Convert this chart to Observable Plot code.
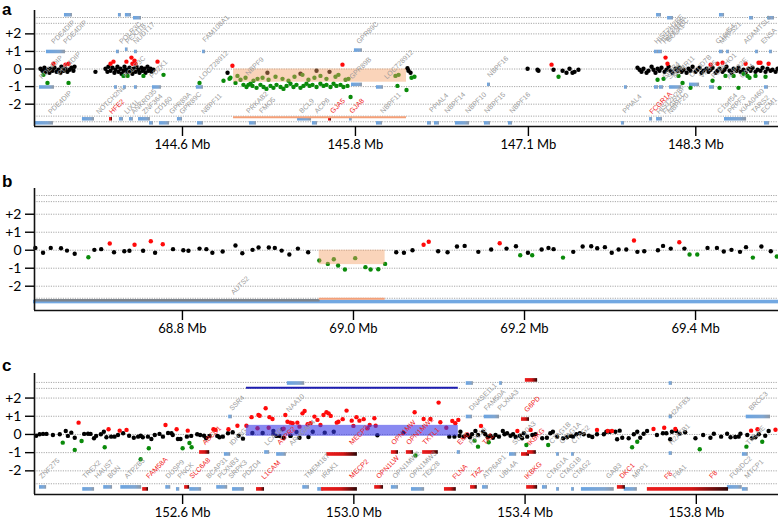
<!DOCTYPE html>
<html>
<head>
<meta charset="utf-8">
<script src="https://cdn.jsdelivr.net/npm/d3@7"></script>
<script src="https://cdn.jsdelivr.net/npm/@observablehq/plot@0.6"></script>
<style>
  body { margin: 0; background: #fff; }
  #wrap { position: relative; width: 778px; height: 521px; overflow: hidden; font-family: Lato, "Open Sans", sans-serif; }
  .panel { position: absolute; left: 0; }
  .letter { position: absolute; left: 2px; font: bold 17px Arial, "Liberation Sans", sans-serif; line-height: normal; }
</style>
</head>
<body>
<svg width="0" height="0" style="position:absolute">
  <defs>
    <linearGradient id="blueGrad" x1="0" x2="1" y1="0" y2="0">
      <stop offset="0" stop-color="#6aa4e2"/><stop offset="0.7" stop-color="#7fa6d2"/><stop offset="1" stop-color="#8f98a4"/>
    </linearGradient>
    <linearGradient id="redGrad" x1="0" x2="1" y1="0" y2="0">
      <stop offset="0" stop-color="#ee1c1c"/><stop offset="0.55" stop-color="#d41515"/><stop offset="1" stop-color="#2a0707"/>
    </linearGradient>
  </defs>
</svg>
<div id="wrap">
  <div class="panel" id="pa" style="top:0px"></div>
  <div class="panel" id="pb" style="top:170px"></div>
  <div class="panel" id="pc" style="top:345px"></div>
  <div class="letter" style="top:0px">a</div>
  <div class="letter" style="top:172px">b</div>
  <div class="letter" style="top:356px">c</div>
</div>
<script>
// ---------- shared tick labels ----------
const yTicks = [2, 1, 0, -1, -2];
const yTickLabels = ["+2", "+1", "0", "-1", "-2"];

// ---------- panel a (chr1, Mb) ----------
const aXTicks = [144.6, 145.84, 147.08, 148.28];
const aXTickLabels = ["144.6 Mb", "145.8 Mb", "147.1 Mb", "148.3 Mb"];
const aGridRows = [2.93, 2.6, 2, 1, 0, -1, -2, -2.68, -3.0];
const aNeutral = [
  [143.582,0.02],[143.596,-0.10],[143.610,0.07],[143.618,-0.16],[143.632,-0.04],[143.646,-0.21],[143.654,0.02],[143.668,-0.10],[143.682,0.07],[143.697,-0.16],[143.711,-0.04],[143.725,-0.21],[143.732,0.13],[143.747,-0.10],[143.761,0.02],[143.775,-0.16],[143.790,-0.04],[143.804,0.07],[143.818,-0.10],[143.826,0.13],[143.976,-0.16],
  [144.048,0.02],[144.062,-0.16],[144.069,0.13],[144.084,-0.10],[144.098,0.07],[144.112,-0.21],[144.120,-0.04],[144.134,0.13],[144.141,-0.16],[144.155,0.02],[144.163,-0.27],[144.177,-0.10],[144.184,0.13],[144.198,-0.04],[144.206,-0.21],[144.220,0.07],[144.227,-0.10],[144.241,-0.27],[144.249,0.02],[144.263,-0.16],[144.270,0.13],[144.284,-0.04],[144.292,-0.21],[144.306,0.07],[144.313,-0.10],[144.328,0.02],[144.335,-0.21],[144.349,0.13],[144.356,-0.10],[144.371,0.02],[144.378,-0.16],[144.392,-0.04],
  [144.923,-0.21],[145.209,-0.21],[145.446,-0.27],[145.561,-0.10],[145.654,-0.16],[146.213,0.05],[146.220,-0.10],[146.235,-0.21],
  [147.074,0.02],[147.145,-0.04],[147.152,-0.10],[147.260,-0.04],[147.325,-0.10],[147.353,-0.21],[147.375,0.02],[147.396,-0.21],[147.411,-0.16],[147.439,-0.04],
  [147.862,0.07],[147.877,-0.04],[147.891,-0.16],[147.905,0.02],[147.927,-0.21],[147.941,-0.10],[147.963,0.13],[147.977,-0.04],[147.991,-0.21],[148.006,0.02],
  [148.020,-0.10],[148.034,0.07],[148.056,-0.16],[148.070,-0.04],[148.085,0.13],[148.099,-0.10],[148.113,-0.21],[148.135,0.02],[148.149,-0.10],[148.163,0.07],
  [148.178,-0.16],[148.192,-0.04],[148.214,-0.21],[148.228,0.02],[148.242,-0.10],[148.257,0.13],[148.278,-0.16],[148.292,-0.04],[148.307,0.07],[148.321,-0.21],
  [148.335,-0.10],[148.357,0.02],[148.371,-0.16],[148.386,-0.04],[148.400,0.07],[148.422,-0.21],[148.436,-0.10],[148.450,0.02],[148.472,-0.16],[148.486,-0.04],
  [148.500,0.13],[148.522,-0.10],[148.536,-0.21],[148.551,0.02],[148.572,-0.10],[148.586,0.07],[148.601,-0.16],[148.622,-0.04],[148.637,-0.21],[148.658,0.02],
  [148.673,-0.10],[148.687,0.07],[148.708,-0.16],[148.723,-0.04],[148.744,-0.10],[148.759,0.07],[148.780,-0.16],[148.794,0.02],[148.816,-0.10],[148.830,-0.04],
  [148.852,-0.16],[148.866,0.02]
];
const aGain = [
  [143.675,0.30],[143.761,0.25],[143.783,0.30],[144.105,0.42],[144.084,0.30],[144.198,0.42],[144.234,0.65],[144.256,0.48],[144.241,0.30],[144.421,0.42],[144.263,0.30],
  [144.958,0.19],[145.747,0.25],[147.246,0.25],[148.063,0.65],[148.077,0.30],[148.386,0.25],[148.436,0.30],[148.472,0.36],[148.637,0.30],[148.730,0.36],[148.744,0.36],[148.802,0.30]
];
const aLoss = [
  [143.603,-0.33],[143.632,-0.79],[143.783,-0.79],[144.177,-0.39],[144.206,-0.39],[144.320,-0.39],[144.464,-0.33],[144.722,-0.79],[144.894,-0.67],[144.937,-0.56],[144.944,-0.50],
  [144.980,-0.79],[145.016,-0.61],[145.037,-0.90],[145.059,-1.02],[145.073,-0.90],[145.088,-0.84],[145.102,-0.96],[145.131,-1.07],[145.159,-0.90],[145.181,-1.02],[145.202,-1.13],[145.231,-0.96],[145.252,-1.07],[145.274,-0.90],[145.303,-1.02],[145.324,-1.13],[145.346,-0.96],[145.374,-0.84],[145.396,-1.02],[145.417,-0.90],[145.446,-1.07],[145.467,-0.96],[145.489,-0.84],[145.511,-0.96],[145.532,-0.90],[145.561,-1.02],[145.589,-0.84],[145.611,-0.96],[145.632,-0.90],[145.661,-1.02],[145.683,-0.84],[145.704,-0.96],[145.733,-0.90],[145.754,-1.02],[145.783,-0.96],[145.805,-1.59],
  [144.994,-0.39],[145.052,-0.50],[145.109,-0.67],[145.138,-0.56],[145.174,-0.50],[145.217,-0.61],[145.267,-0.44],[145.317,-0.56],[145.360,-0.67],[145.403,-0.44],[145.460,-0.33],[145.503,-0.61],[145.546,-0.50],[145.589,-0.39],[145.632,-0.56],[145.697,-0.44],[145.718,-0.33],[145.769,-0.61],[145.790,-0.56],[146.127,-0.39],[146.149,-0.33],
  [146.141,-0.96],[146.206,-1.19],[146.242,-0.50],[146.263,-0.44],
  [147.296,-0.44],[148.006,-0.61],[148.049,-0.56],[148.156,-0.39],[148.185,-0.79],[148.242,-1.07],[148.400,-0.67],[148.450,-1.07],[148.493,-0.39],[148.551,-0.39],[148.586,-1.07],[148.622,-0.27],[148.651,-0.39],[148.665,-0.50],[148.708,-0.39],[148.780,-0.44]
];
const aRegion = {start: 144.966, end: 146.206, top: 0, bottom: -0.75, lineRow: -2.74};
const aGenes = [
  [143.761,143.804,3.06],[144.148,144.155,3.06],[144.198,144.227,3.06],[144.256,144.299,2.89],[148.006,148.027,3.06],[148.085,148.113,2.89],[148.457,148.479,3.06],[148.673,148.687,2.89],[148.802,148.837,2.89],
  [143.632,143.754,0.97],[144.134,144.141,0.97],[144.198,144.203,1.1],[144.263,144.270,0.97],[144.751,144.758,0.97],[145.840,145.883,1.05],[147.991,148.006,0.97],[148.020,148.034,0.97],[148.457,148.472,0.97],[148.508,148.515,0.97],[148.716,148.723,0.97],[148.816,148.823,0.97],
  [143.582,143.675,-1.05],[144.120,144.127,-1.05],[144.184,144.191,-1.05],[144.263,144.270,-1.05],[144.392,144.442,-1.05],[144.707,144.743,-1.05],[145.819,145.883,-0.9],[145.998,146.034,-1.05],[146.794,146.801,-0.9],[147.776,147.783,-1.05],[147.991,148.006,-1.05],[148.027,148.042,-1.05],[148.099,148.171,-1.05],[148.242,148.300,-0.9],[148.386,148.407,-1.05],[148.780,148.794,-1.05],
  [143.890,143.962,-2.86],[144.155,144.170,-2.86],[144.227,144.241,-2.86],[144.292,144.363,-2.86],[144.571,144.593,-2.86],[145.432,145.518,-2.86],[145.805,145.810,-2.86],[147.956,147.963,-2.86],[148.006,148.034,-2.86],[148.493,148.637,-2.86],
  [143.553,143.668,-3.09],[144.371,144.385,-3.09],[144.442,144.500,-3.09],[144.715,144.743,-3.09],[145.088,145.123,-3.09],[145.539,145.561,-3.09],[145.998,146.027,-3.09],[146.364,146.378,-3.09],[146.414,146.435,-3.09],[146.564,146.651,-3.09],[146.772,146.801,-3.09],[146.944,146.959,-3.09],[147.755,147.762,-3.09],[148.780,148.802,-3.09]
];
const aRedGenes = [[145.654,145.661,-2.86],[144.084,144.091,-2.86]];
const aLabels = [
  ["PDE4DIP",143.668,1.5],["PDE4DIP",143.754,1.5],["POLR3C",144.155,1.5],["PEX11B",144.198,1.5],["NUDT17",144.256,1.5],["FAM108A1",144.751,1.6],["GPR89C",145.855,1.5],
  ["HIST2H2BE",147.991,1.5],["HIST2H4A",148.020,1.5],["HIST2H3C",148.049,1.5],["BOLA1",148.077,1.6],["C1orf54",148.429,1.5],["MRPS21",148.457,1.5],["ADAMTSL4",148.630,1.5],["ENSA",148.755,1.5],
  ["PDE4DIP",143.582,-0.5],["PDE4DIP",143.711,-0.3],["POLR3C",144.184,-0.45],["PDZK1",144.371,-0.45],["LOC728912",144.729,-0.55],["NBPF9",145.060,-0.3],["GPR89B",145.805,-0.5],["LOC728912",146.055,-0.5],["NBPF16",146.794,-0.4],
  ["SF3B4",148.049,-0.5],["SV2A",148.085,-0.5],["MTMR11",148.121,-0.45],["OTUD7B",148.242,-0.4],["VPS45",148.314,-0.45],["PLEKHO1",148.400,-0.45],["ANP32E",148.508,-0.5],["CA14",148.601,-0.45],
  ["PDE4DIP",143.646,-2.5],["NOTCH2NL",143.990,-2.5],["LIX1L",144.191,-2.5],["ANKRD35",144.241,-2.5],["ZNF364",144.320,-2.5],["CD160",144.406,-2.5],["GPR89A",144.514,-2.5],["GPR89C",144.586,-2.5],["NBPF11",144.743,-2.5],
  ["PRKAB2",145.066,-2.45],["FMO5",145.159,-2.45],["BCL9",145.446,-2.45],["ACP6",145.554,-2.45],["NBPF11",146.027,-2.45],["PPIAL4",146.378,-2.4],["NBPF14",146.486,-2.45],["NBPF10",146.636,-2.45],["NBPF15",146.772,-2.45],["NBPF16",146.952,-2.45],
  ["PPIAL4",147.762,-2.45],["HIST2H2BF",148.006,-2.5],["FCGR1C",148.049,-2.5],["NBPF20",148.085,-2.5],["C1orf54",148.443,-2.45],["PRPF3",148.515,-2.45],["KIAA0460",148.601,-2.45],["TARS2",148.687,-2.45],["ECM1",148.755,-2.45]
];
const aRedLabels = [["HFE2",144.084,-2.5],["GJA5",145.668,-2.45],["GJA8",145.805,-2.45],["FCGR1A",147.956,-2.5]];

// ---------- panel b (chr7, Mb) ----------
const bXTicks = [68.8, 69.0, 69.2, 69.4];
const bXTickLabels = ["68.8 Mb", "69.0 Mb", "69.2 Mb", "69.4 Mb"];
const bGridRows = [3.04, 2.7, 2, 1, 0, -1, -2, -2.67];
const bNeutral = [
  [68.628,0.13],[68.637,-0.14],[68.646,0.13],[68.658,0.11],[68.665,-0.02],[68.674,-0.20],[68.697,0.02],[68.705,0.06],[68.720,-0.11],[68.732,-0.06],[68.738,-0.03],[68.754,-0.03],[68.768,-0.14],
  [68.789,0.06],[68.801,0.00],[68.807,-0.03],[68.820,0.09],[68.828,0.06],[68.835,-0.14],[68.847,-0.07],[68.862,0.26],[68.870,-0.17],[68.882,0.02],[68.889,0.15],[68.901,0.15],[68.908,0.13],[68.916,-0.02],[68.925,-0.24],[68.935,0.09],[68.947,-0.11],
  [69.050,-0.11],[69.059,-0.14],[69.069,0.00],[69.099,-0.06],[69.110,-0.11],[69.121,0.21],[69.130,0.24],[69.146,-0.09],[69.161,0.04],[69.179,0.09],[69.190,0.22],[69.204,-0.14],[69.220,0.04],[69.228,0.13],[69.234,0.06],
  [69.257,-0.09],[69.268,0.21],[69.278,0.22],[69.285,0.11],[69.294,0.17],[69.302,-0.14],[69.310,0.04],[69.319,0.04],[69.332,-0.09],[69.340,-0.06],[69.356,0.00],[69.362,0.24],[69.371,0.09],[69.387,0.09],
  [69.414,0.13],[69.425,0.13],[69.433,-0.07],[69.442,0.02],[69.452,-0.09],[69.459,0.17],[69.477,0.21],[69.488,-0.06]
];
const bGain = [[68.715,0.37],[68.744,0.30],[68.763,0.50],[68.777,0.33],[69.082,0.30],[69.088,0.47],[69.171,0.39],[69.328,0.54],[69.381,0.44]];
const bLoss = [
  [68.690,-0.39],[68.960,-0.57],[68.970,-0.76],[68.977,-0.50],[68.982,-0.85],[68.990,-1.07],[69.002,-0.44],[69.014,-0.94],[69.020,-1.07],[69.029,-1.06],[69.037,-0.76],
  [69.195,-0.28],[69.209,-0.28],[69.245,-0.41],[69.393,-0.24],[69.402,-0.24],[69.467,-0.41],[69.495,-0.35]
];
const bRegion = {start: 68.960, end: 69.037, top: 0, bottom: -0.8, lineRow: -2.7};
const bGrayGenes = [[68.627,68.961,-2.81]];
const bGenes = [[68.627,69.497,-2.88]];
const bLabels = [["AUTS2",68.858,-2.4]];

// ---------- panel c (chrX, Mb) ----------
const cXTicks = [152.6, 153.0, 153.4, 153.8];
const cXTickLabels = ["152.6 Mb", "153.0 Mb", "153.4 Mb", "153.8 Mb"];
const cGridRows = [2.86, 2.53, 2, 1, 0, -1, -2, -2.71];
const cNeutral = [
  [152.258,-0.07],[152.266,0.01],[152.274,0.03],[152.282,0.03],[152.297,-0.03],[152.313,0.01],[152.327,0.19],[152.332,-0.08],[152.340,0.10],[152.348,-0.18],[152.370,0.03],[152.379,0.04],[152.385,0.03],[152.393,-0.21],[152.398,-0.08],[152.409,0.01],[152.416,0.15],[152.422,-0.15],[152.433,-0.12],[152.441,-0.12],
  [152.449,-0.03],[152.461,0.07],[152.475,-0.07],[152.486,-0.18],[152.496,-0.12],[152.502,-0.07],[152.507,-0.15],[152.519,-0.12],[152.527,-0.25],[152.535,-0.03],[152.546,0.03],[152.554,-0.12],[152.566,0.08],[152.574,0.07],[152.577,-0.03],[152.589,-0.25],[152.595,-0.25],[152.610,-0.12],[152.620,-0.08],[152.634,0.01],
  [152.641,-0.03],[152.650,-0.07],[152.655,-0.21],[152.663,-0.08],[152.681,-0.08],[152.686,-0.15],[152.694,-0.12],[152.706,0.07],[152.717,0.12],[152.731,-0.07],[152.741,-0.23],
  [152.763,0.08],[152.787,0.08],[152.812,0.19],[152.833,0.29],[152.852,-0.07],[152.866,0.14],[152.904,0.15],[152.932,0.10],[152.953,0.15],[153.055,-0.04],[153.116,0.10],
  [152.812,0.03],[152.819,-0.08],[152.826,-0.08],[152.836,-0.19],[152.852,-0.08],[152.873,-0.18],[152.894,-0.14],[153.223,-0.12],[153.235,-0.12],[153.247,-0.08],
  [153.249,0.15],[153.257,-0.12],[153.265,-0.03],[153.271,-0.15],[153.276,0.01],[153.284,0.19],[153.290,-0.03],[153.302,0.15],[153.307,0.01],[153.313,-0.15],[153.319,-0.07],[153.325,-0.18],[153.331,-0.03],[153.339,-0.12],[153.348,0.19],[153.352,0.01],[153.358,0.07],[153.366,-0.07],[153.372,0.01],[153.378,-0.14],
  [153.388,-0.07],[153.393,-0.21],[153.397,0.07],[153.405,-0.12],[153.417,-0.03],[153.424,0.01],[153.440,-0.21],[153.451,-0.18],[153.459,0.07],[153.465,0.15],[153.475,-0.12],[153.489,-0.21],[153.498,-0.15],[153.506,-0.08],[153.512,-0.12],[153.520,0.01],[153.528,0.07],[153.537,0.01],[153.549,-0.07],[153.557,-0.14],
  [153.568,0.01],[153.584,0.01],[153.590,0.15],[153.598,0.15],[153.611,0.15],[153.615,-0.26],[153.621,0.21],[153.627,-0.18],[153.642,-0.21],[153.654,0.01],[153.662,0.15],[153.669,-0.18],[153.677,0.04],[153.685,0.19],[153.708,-0.03],[153.722,0.07],[153.730,0.07],[153.739,-0.26],[153.743,0.15],[153.753,0.19],
  [153.761,0.04],[153.774,0.12],[153.798,-0.21],[153.816,-0.03],[153.833,-0.18],[153.841,0.04],[153.858,-0.12],[153.872,0.04],[153.880,-0.15],[153.891,-0.14],[153.899,-0.12],[153.903,0.04],[153.919,-0.03],[153.930,-0.21],[153.938,-0.15],[153.946,0.01],[153.961,-0.07],[153.969,0.19]
];
const cGain = [
  [152.357,0.65],[152.427,0.29],[152.453,0.21],[152.469,0.25],[152.560,0.52],[152.586,0.29],[152.612,0.21],[152.672,0.29],[152.677,0.25],[152.707,0.29],[152.728,0.48],[152.749,0.48],[152.761,0.95],[152.775,0.34],[152.777,1.07],
  [152.780,1.03],[152.794,1.44],[152.803,0.95],[152.810,0.85],[152.801,0.37],[152.836,0.32],[152.840,1.07],[152.845,0.70],[152.852,0.65],[152.857,0.62],[152.868,0.65],[152.873,0.43],[152.880,1.16],[152.885,1.29],[152.892,0.56],[152.899,0.62],[152.908,0.98],[152.915,0.80],[152.922,0.52],[152.929,1.07],
  [152.936,1.22],[152.941,1.16],[152.946,1.02],[152.960,0.65],[152.964,0.70],[152.974,0.84],[152.983,1.31],[152.995,0.76],[152.999,0.47],[153.006,0.95],[153.013,0.76],[153.023,0.84],[153.032,0.34],[153.037,0.52],[153.048,0.89],[153.051,0.48],
  [153.142,1.22],[153.163,0.85],[153.179,0.85],[153.198,1.75],[153.202,0.67],[153.216,0.37],[153.230,0.74],[153.237,0.62],[153.244,0.80],
  [153.297,0.47],[153.382,0.19],[153.413,0.25],[153.568,0.25],[153.593,0.19],[153.603,0.19],[153.700,0.30],[153.725,0.37],[153.751,0.30],[153.928,0.21],[153.943,0.29],[153.985,0.26]
];
const cLoss = [
  [152.320,-0.45],[152.348,-0.85],[152.364,-0.36],[152.418,-0.70],[152.521,-0.76],[152.600,-0.76],[152.616,-0.47],[152.621,-0.70],[152.502,-1.36],
  [153.282,-0.34],[153.290,-0.67],[153.315,-0.43],[153.403,-0.58],[153.454,-0.58],[153.650,-0.70],[153.662,-0.40],[153.808,-0.81],[153.917,-0.67],[153.954,-0.40],[153.144,-1.16]
];
const cRegion = {start: 152.749, end: 153.244, top: 0.5, bottom: -0.1, lineRow: 2.56};
const cGenes = [
  [152.847,152.883,2.8],[153.265,153.277,2.8],[153.343,153.345,2.8],[153.739,153.742,2.8],
  [152.710,152.714,0.96],[153.265,153.275,0.96],[153.307,153.338,0.96],[153.739,153.742,0.96],[153.919,153.971,0.96],
  [152.700,152.710,-1.1],[152.794,152.801,-0.99],[152.822,152.840,-1.1],[153.244,153.247,-0.99],[153.366,153.378,-1.1],[153.476,153.478,-1.1],[153.511,153.513,-1.1],[153.739,153.742,-1.05],[153.910,153.919,-1.1],
  [152.268,152.280,-2.91],[152.369,152.392,-3.02],[152.418,152.434,-2.91],[152.458,152.502,-2.91],[152.563,152.570,-2.91],[152.588,152.591,-3.02],[152.619,152.642,-3.02],[152.682,152.703,-2.91],[152.719,152.742,-3.02],
  [152.883,152.894,-2.91],[152.918,152.927,-3.02],[153.090,153.102,-2.91],[153.137,153.163,-3.02],[153.303,153.312,-2.91],[153.443,153.450,-2.91],[153.476,153.478,-3.02],[153.511,153.513,-3.02],[153.534,153.606,-3.02],[153.634,153.660,-3.02],[153.875,153.905,-2.91],[153.910,153.919,-3.02]
];
const cRedGenes = [
  [153.403,153.427,2.97],[153.394,153.408,0.82],
  [152.642,152.661,-0.99],[152.939,153.006,-1.1],[153.090,153.102,-0.99],[153.125,153.137,-0.99],[153.163,153.195,-0.99],[153.394,153.408,-1.1],[153.408,153.424,-0.99],
  [152.509,152.518,-3.02],[152.607,152.614,-2.91],[152.775,152.789,-3.02],[152.927,153.006,-3.02],[153.051,153.067,-2.91],[153.214,153.237,-3.02],[153.275,153.286,-2.91],[153.406,153.427,-2.91],[153.618,153.632,-2.91],[153.688,153.873,-3.02]
];
const cLabels = [
  ["SSR4",152.712,1.37],["NAA10",152.845,1.3],["DNASE1L1",153.272,1.37],["FAM50A",153.307,1.37],["PLXNA3",153.338,1.37],["H2AFB3",153.739,1.0],["BRCC3",153.925,1.37],
  ["IDH3G",152.712,-0.55],["LCA10",152.794,-0.55],["ARHGAP4",152.852,-0.55],["RPL10",153.272,-0.5],["SLC10A3",153.373,-0.5],["CTAG1B",153.459,-0.45],["CTAG1A",153.483,-0.45],["CTAG2",153.511,-0.45],["H2AFB1",153.739,-0.5],["TMLHE",153.919,-0.5],
  ["ZNF275",152.268,-2.36],["TREX2",152.369,-2.36],["HAUS7",152.397,-2.36],["BGN",152.427,-2.36],["ATP2B3",152.467,-2.36],["DUSP9",152.563,-2.36],["PNCK",152.591,-2.36],["BCAP31",152.658,-2.36],["PLXNB3",152.684,-2.36],["SRPK3",152.710,-2.36],["PDZD4",152.742,-2.36],
  ["TMEM187",152.887,-2.36],["IRAK1",152.927,-2.36],["OPN1MW2",153.093,-2.36],["OPN1MW3",153.132,-2.36],["TEX28",153.163,-2.36],["ATP6AP1",153.303,-2.36],["UBL4A",153.343,-2.36],
  ["CTAG1A",153.452,-2.36],["CTAG1B",153.483,-2.36],["CTAG2",153.513,-2.36],["GAB3",153.592,-2.36],["MPP1",153.653,-2.36],["F8A1",153.747,-2.36],["FUNDC2",153.880,-2.36],["MTCP1",153.915,-2.36]
];
const cRedLabels = [
  ["G6PD",153.401,1.3],
  ["ABCD1",152.649,-0.5],["AVPR2",152.824,-0.5],["MECP2",152.992,-0.5],["OPN1MW",153.090,-0.5],["OPN1MW2",153.125,-0.5],["TKTL1",153.163,-0.5],["EMD",153.244,-0.5],["TAZ",153.303,-0.5],["IKBKG",153.408,-0.55],
  ["FAM58A",152.518,-2.36],["SLC6A8",152.619,-2.36],["L1CAM",152.787,-2.4],["MECP2",152.992,-2.36],["OPN1LW",153.055,-2.36],["FLNA",153.233,-2.4],["TAZ",153.277,-2.36],["IKBKG",153.401,-2.4],["DKC1",153.623,-2.36],["F8",153.728,-2.4],["F8",153.833,-2.36]
];

// ---------- drawing ----------
const FONT = "Lato, 'Open Sans', sans-serif";

function panel(cfg) {
  const fmtY = d => yTickLabels[yTicks.indexOf(d)];
  const fmtX = d => cfg.xTickLabels[cfg.xTicks.indexOf(d)];
  const reg = cfg.region;
  const geneRect = (data, fill) => Plot.rect(data, {
    x1: d => d[0], x2: d => d[1],
    y1: d => d[2] - 0.1, y2: d => d[2] + 0.1,
    insetLeft: -1, insetRight: -1,
    fill
  });
  const labelText = (data, fill) => Plot.text(data, {
    x: d => d[1], y: d => d[2], text: d => d[0],
    rotate: -45, textAnchor: "start", fontSize: 7, fill, fontFamily: "Arial, sans-serif"
  });
  return Plot.plot({
    width: 778, height: cfg.height,
    marginLeft: 34, marginRight: 0, marginTop: cfg.marginTop, marginBottom: cfg.marginBottom,
    x: {domain: cfg.xDomain},
    y: {domain: cfg.yDomain},
    style: {fontFamily: FONT, fontSize: "13px", color: "#000", background: "transparent", overflow: "visible"},
    marks: [
      Plot.ruleY(cfg.grid, {stroke: "#a8a8a8", strokeDasharray: "1.2,1.2", strokeWidth: 1}),
      geneRect(cfg.genes, cfg.geneFill || "url(#blueGrad)"),
      ...(cfg.extra || []),
      geneRect(cfg.redGenes || [], "url(#redGrad)"),
      Plot.dot(cfg.neutral, {x: d => d[0], y: d => d[1], r: 2.2, fill: "#000"}),
      Plot.dot(cfg.loss, {x: d => d[0], y: d => d[1], r: 2.2, fill: "#0a8a0a"}),
      Plot.dot(cfg.gain, {x: d => d[0], y: d => d[1], r: 2.2, fill: "#ff0a0a"}),
      Plot.rect([reg], {x1: "start", x2: "end", y1: "bottom", y2: "top", fill: cfg.regionFill, fillOpacity: cfg.regionOpacity}),
      Plot.ruleY([reg], {y: "lineRow", x1: "start", x2: "end", stroke: cfg.lineColor, strokeWidth: 2}),
      labelText(cfg.labels, "#9a9a9a"),
      labelText(cfg.redLabels || [], "#f01818"),
      Plot.ruleX([cfg.xDomain[0]], {stroke: "#111", strokeWidth: 1.6}),
      Plot.ruleY([cfg.yDomain[0]], {stroke: "#111", strokeWidth: 1.6}),
      Plot.axisY({ticks: yTicks, tickFormat: fmtY, tickSize: 9, tickPadding: 4, label: null, fontSize: 14, strokeWidth: 1.4}),
      Plot.axisX({ticks: cfg.xTicks, tickFormat: fmtX, tickSize: 10, tickPadding: 3, label: null, fontSize: 13, strokeWidth: 1.4})
    ]
  });
}

document.getElementById("pa").appendChild(panel({
  height: 160, marginTop: 10, marginBottom: 34,
  xDomain: [143.539, 148.873], yDomain: [-3.27, 3.33],
  xTicks: aXTicks, xTickLabels: aXTickLabels, grid: aGridRows,
  neutral: aNeutral, gain: aGain, loss: aLoss,
  region: aRegion, regionFill: "#f4a066", regionOpacity: 0.45, lineColor: "#f4a078",
  genes: aGenes, redGenes: aRedGenes, labels: aLabels, redLabels: aRedLabels
}));

document.getElementById("pb").appendChild(panel({
  height: 172, marginTop: 18, marginBottom: 32,
  xDomain: [68.627, 69.497], yDomain: [-3.35, 3.43],
  xTicks: bXTicks, xTickLabels: bXTickLabels, grid: bGridRows,
  neutral: bNeutral, gain: bGain, loss: bLoss,
  region: bRegion, regionFill: "#f4a066", regionOpacity: 0.45, lineColor: "#f4a078",
  genes: bGenes, geneFill: "#72a8e2", labels: bLabels,
  extra: [
    Plot.rect(bGrayGenes, {x1: d => d[0], x2: d => d[1], y1: d => d[2] - 0.07, y2: d => d[2] + 0.07, fill: "#7d848c"})
  ]
}));

document.getElementById("pc").appendChild(panel({
  height: 176, marginTop: 28, marginBottom: 27,
  xDomain: [152.254, 153.992], yDomain: [-3.30, 3.35],
  xTicks: cXTicks, xTickLabels: cXTickLabels, grid: cGridRows,
  neutral: cNeutral, gain: cGain, loss: cLoss,
  region: cRegion, regionFill: "#3a3ae8", regionOpacity: 0.6, lineColor: "#1c1cb0",
  genes: cGenes, redGenes: cRedGenes, labels: cLabels, redLabels: cRedLabels
}));
</script>
</body>
</html>
